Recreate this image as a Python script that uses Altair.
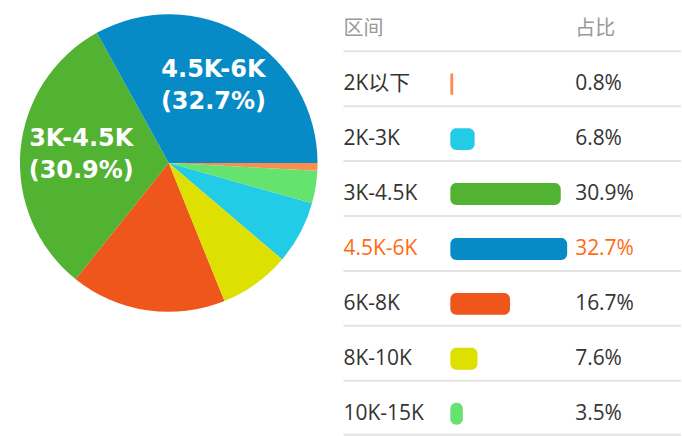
import math
import altair as alt
import pandas as pd

# ---- data ----
categories = ["2K以下", "2K-3K", "3K-4.5K", "4.5K-6K", "6K-8K", "8K-10K", "10K-15K"]
shares = [0.8, 6.8, 30.9, 32.7, 16.7, 7.6, 3.5]
share_labels = ["0.8%", "6.8%", "30.9%", "32.7%", "16.7%", "7.6%", "3.5%"]
header_labels = ["区间", "占比"]
highlight = "4.5K-6K"

# ---- styles ----
colors = ["#fd8d4f", "#22cbe6", "#52b232", "#078bc7", "#ee561b", "#dde000", "#64e36e"]
FONT = "Open Sans, Noto Sans CJK SC, sans-serif"
PIE_FONT = "DejaVu Sans, sans-serif"
ORANGE = "#ff6a13"

rows = list(range(1, len(categories) + 1))
df = pd.DataFrame({
    "cat": categories,
    "pct": shares,
    "pct_text": share_labels,
    "row": rows,
    "pie_label": [f"{c}\n({s}%)" if s > 20 else "" for c, s in zip(categories, shares)],
})
sep_df = pd.DataFrame({"sep": [r + 0.4 for r in [0] + rows[:-1]] + [rows[-1] + 0.385]})
head_df = pd.DataFrame({"h": header_labels, "row": [0, 0]})

color_scale = alt.Scale(domain=categories, range=colors)

# ---- pie ----
theta = alt.Theta("pct:Q", stack=True,
                  scale=alt.Scale(range=[math.pi / 2, math.pi / 2 + 2 * math.pi]))
order = alt.Order("pct:Q", sort="ascending")

arcs = alt.Chart(df).mark_arc(outerRadius=149).encode(
    theta=theta, order=order,
    color=alt.Color("cat:N", scale=color_scale, legend=None),
)
pie_text = alt.Chart(df).mark_text(
    radius=88, dy=-17, fontSize=24, fontWeight="bold", fill="white", font=PIE_FONT,
    lineBreak="\n", lineHeight=32, align="center", baseline="middle",
).encode(theta=theta, order=order, detail="cat:N", text="pie_label:N")

pie = alt.layer(arcs, pie_text).properties(width=338, height=326)

# ---- table ----
y_scale = alt.Scale(domain=[-29 / 55, 407 / 55], reverse=True, nice=False, zero=False, padding=0)
Y = lambda f: alt.Y(f, scale=y_scale, axis=None)

rules = alt.Chart(sep_df).mark_rule(color="#e3e3e3", strokeWidth=2).encode(
    x=alt.value(6), x2=alt.value(344), y=Y("sep:Q"))

head1 = alt.Chart(head_df).transform_filter(alt.datum.h == header_labels[0]).mark_text(
    align="left", baseline="middle", fontSize=20, font=FONT, color="#999999"
).encode(x=alt.value(6), y=Y("row:Q"), text="h:N")
head2 = alt.Chart(head_df).transform_filter(alt.datum.h == header_labels[1]).mark_text(
    align="left", baseline="middle", fontSize=20, font=FONT, color="#999999"
).encode(x=alt.value(238), y=Y("row:Q"), text="h:N")

txt_color = alt.condition(alt.datum.cat == highlight, alt.value(ORANGE), alt.value("#333333"))

cat_text = alt.Chart(df).mark_text(
    align="left", baseline="middle", fontSize=21, font=FONT
).encode(x=alt.value(6), y=Y("row:Q"), text="cat:N", color=txt_color)

pct_text = alt.Chart(df).mark_text(
    align="left", baseline="middle", fontSize=21, font=FONT
).encode(x=alt.value(238), y=Y("row:Q"), text="pct_text:N", color=txt_color)

bars = alt.Chart(df).mark_bar(cornerRadius=6, size=22).encode(
    x=alt.X("pct:Q", scale=alt.Scale(domain=[0, 32.7], range=[113, 230], zero=False, nice=False, padding=0), axis=None),
    x2=alt.datum(0),
    y=Y("row:Q"),
    color=alt.Color("cat:N", scale=color_scale, legend=None),
)

table = alt.layer(rules, head1, head2, cat_text, bars, pct_text).properties(width=344, height=436)

chart = alt.hconcat(pie, table, spacing=0).resolve_scale(color="independent").properties(
    padding=0, background="white"
).configure_view(stroke=None)

chart.save("out.html", embed_options={"renderer": "svg", "actions": False})
